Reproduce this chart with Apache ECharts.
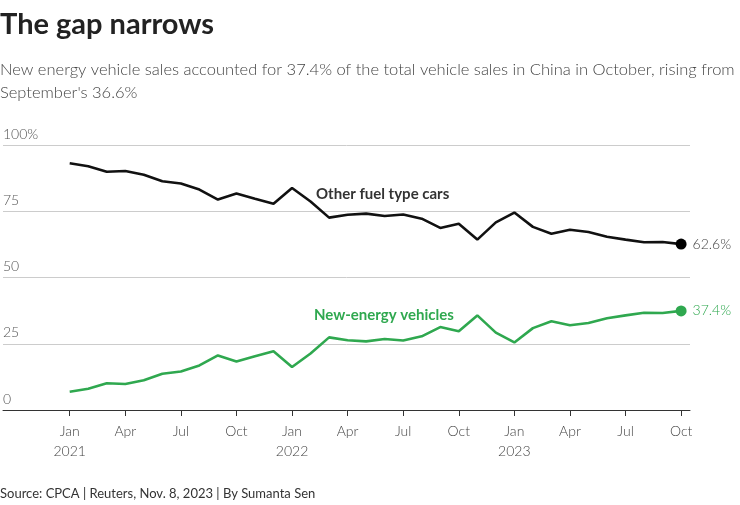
<!DOCTYPE html>
<html><head><meta charset="utf-8">
<script src="https://cdn.jsdelivr.net/npm/echarts@6/dist/echarts.min.js"></script>
<style>html,body{margin:0;padding:0;background:#fff}#c{width:740px;height:505px}</style>
</head><body><div id="c"></div>
<script>
const months = ['Jan 2021','Feb 2021','Mar 2021','Apr 2021','May 2021','Jun 2021','Jul 2021','Aug 2021','Sep 2021','Oct 2021','Nov 2021','Dec 2021',
'Jan 2022','Feb 2022','Mar 2022','Apr 2022','May 2022','Jun 2022','Jul 2022','Aug 2022','Sep 2022','Oct 2022','Nov 2022','Dec 2022',
'Jan 2023','Feb 2023','Mar 2023','Apr 2023','May 2023','Jun 2023','Jul 2023','Aug 2023','Sep 2023','Oct 2023'];
const nev = [6.9, 8.0, 10.1, 9.8, 11.2, 13.7, 14.5, 16.8, 20.6, 18.3, 20.3, 22.2,
 16.2, 21.3, 27.4, 26.3, 25.9, 26.8, 26.2, 27.8, 31.3, 29.7, 35.7, 29.2,
 25.5, 30.9, 33.5, 32.0, 32.8, 34.6, 35.7, 36.7, 36.6, 37.4];
const other = [93.1, 92.0, 89.9, 90.2, 88.8, 86.3, 85.5, 83.2, 79.4, 81.7, 79.7, 77.8,
 83.8, 78.7, 72.6, 73.7, 74.1, 73.2, 73.8, 72.2, 68.7, 70.3, 64.3, 70.8,
 74.5, 69.1, 66.5, 68.0, 67.2, 65.4, 64.3, 63.3, 63.4, 62.6];
const tickIdx = [0,3,6,9,12,15,18,21,24,27,30,33];
const tickLabels = ['Jan\n2021','Apr','Jul','Oct','Jan\n2022','Apr','Jul','Oct','Jan\n2023','Apr','Jul','Oct'];

const FONT = 'Lato, "Noto Sans", sans-serif';
const GREEN = '#2fa84f';
const chart = echarts.init(document.getElementById('c'), null, {renderer:'canvas'});
const last = months.length - 1;
function pts(arr){ return arr.map((v,i)=>[i,v]); }
function lastPoint(arr, color, labelColor){
  return {
    type:'scatter', data:[[last, arr[last]]], symbolSize:11, itemStyle:{color:color, opacity:1}, z:5,
    label:{show:true, position:'right', distance:6, formatter:(p)=>p.value[1].toFixed(1)+'%',
      color:labelColor, fontSize:14, fontFamily:FONT, fontWeight:300},
    silent:true
  };
}
chart.setOption({
  animation:false,
  textStyle:{fontFamily:FONT},
  grid:{left:0, right:50, top:145, bottom:95, containLabel:false},
  xAxis:{
    type:'value', min:-3.6, max:33.48,
    axisLine:{show:true, lineStyle:{color:'#333', width:1}},
    axisTick:{show:true, customValues:tickIdx, length:6, lineStyle:{color:'#333'}},
    axisLabel:{show:true, customValues:tickIdx, margin:11, color:'#444', fontSize:14, lineHeight:20,
      fontFamily:FONT, fontWeight:300,
      formatter:(v)=>{const k=tickIdx.indexOf(Math.round(v)); return k>=0?tickLabels[k]:'';}},
    splitLine:{show:false}
  },
  yAxis:{
    type:'value', min:0, max:100, interval:25,
    axisLine:{show:false}, axisTick:{show:false},
    axisLabel:{inside:true, margin:0, verticalAlign:'bottom', padding:[0,0,4,0], color:'#555', fontSize:14,
      fontFamily:FONT, fontWeight:300, formatter:(v)=> v===100 ? '100%' : String(v)},
    splitLine:{show:true, lineStyle:{color:'#ccc', width:1}}
  },
  series:[
    {type:'line', name:'Other fuel type cars', data:pts(other), symbol:'none', lineStyle:{color:'#111', width:2.6}, z:3},
    {type:'line', name:'New-energy vehicles', data:pts(nev), symbol:'none', lineStyle:{color:GREEN, width:2.6}, z:3},
    lastPoint(other, '#000', '#444'),
    lastPoint(nev, GREEN, GREEN)
  ],
  graphic:[
    {type:'text', left:0, top:10, style:{text:'The gap narrows', font:'bold 29px '+FONT, fill:'#222'}},
    {type:'text', left:0, top:58, style:{text:"New energy vehicle sales accounted for 37.4% of the total vehicle sales in China in October, rising from\nSeptember's 36.6%", font:'300 16.5px '+FONT, fill:'#444', lineHeight:23}},
    {type:'text', left:316, top:187, style:{text:'Other fuel type cars', font:'bold 15px '+FONT, fill:'#333'}},
    {type:'text', left:314, top:308, style:{text:'New-energy vehicles', font:'bold 15px '+FONT, fill:GREEN}},
    {type:'text', left:0, top:487, style:{text:'Source: CPCA | Reuters, Nov. 8, 2023 | By Sumanta Sen', font:'13px '+FONT, fill:'#333'}}
  ]
});
</script></body></html>
